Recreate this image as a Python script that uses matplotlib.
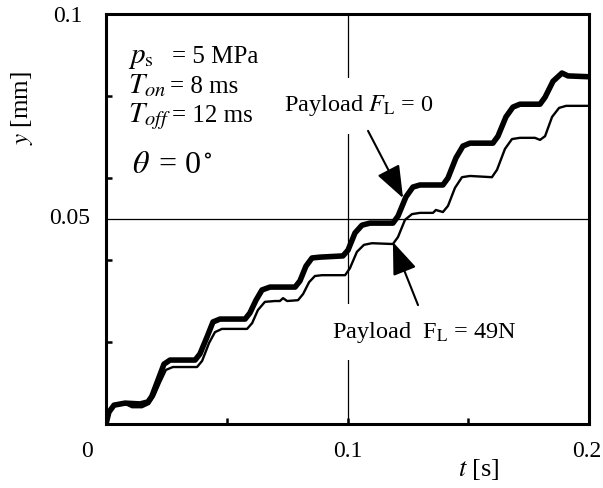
import matplotlib
matplotlib.use('Agg')
import matplotlib.pyplot as plt

plt.rcParams['font.family'] = ['Liberation Serif', 'DejaVu Serif']
plt.rcParams['mathtext.fontset'] = 'stix'

# spool displacement, payload F_L = 0
t_free = [0.0, 0.0012, 0.0033, 0.0079, 0.0141, 0.0174, 0.0190, 0.0215, 0.0240, 0.0265,
          0.0369, 0.0389, 0.0418, 0.0443, 0.0472, 0.0576, 0.0596, 0.0621, 0.0646, 0.0679,
          0.0783, 0.0803, 0.0828, 0.0853, 0.0886, 0.0981, 0.1002, 0.1031, 0.1060, 0.1093,
          0.1188, 0.1209, 0.1242, 0.1271, 0.1300, 0.1395, 0.1416, 0.1449, 0.1478, 0.1507,
          0.1602, 0.1623, 0.1656, 0.1685, 0.1714, 0.1797, 0.1818, 0.1851, 0.1888, 0.1913,
          0.2000]
y_free = [0.0, 0.0029, 0.0046, 0.0051, 0.0049, 0.0054, 0.0068, 0.0107, 0.0146, 0.0156,
          0.0156, 0.0171, 0.0212, 0.0249, 0.0256, 0.0256, 0.0271, 0.0302, 0.0327, 0.0334,
          0.0334, 0.0349, 0.0385, 0.0405, 0.0407, 0.0410, 0.0424, 0.0466, 0.0485, 0.0490,
          0.0490, 0.0507, 0.0554, 0.0578, 0.0583, 0.0583, 0.0600, 0.0649, 0.0678, 0.0685,
          0.0685, 0.0702, 0.0749, 0.0773, 0.0780, 0.0780, 0.0797, 0.0836, 0.0856, 0.0849,
          0.0847]

# spool displacement, payload F_L = 49 N
t_load = [0.0, 0.0012, 0.0033, 0.0079, 0.0108, 0.0149, 0.0178, 0.0199, 0.0224, 0.0248,
          0.0277, 0.0377, 0.0398, 0.0427, 0.0451, 0.0480, 0.0584, 0.0605, 0.0629, 0.0658,
          0.0700, 0.0720, 0.0733, 0.0750, 0.0795, 0.0816, 0.0841, 0.0865, 0.0894, 0.0990,
          0.1010, 0.1039, 0.1068, 0.1101, 0.1188, 0.1209, 0.1238, 0.1267, 0.1300, 0.1354,
          0.1366, 0.1395, 0.1416, 0.1445, 0.1474, 0.1507, 0.1598, 0.1619, 0.1652, 0.1681,
          0.1714, 0.1776, 0.1797, 0.1818, 0.1847, 0.1876, 0.1905, 0.2000]
y_load = [0.0, 0.0027, 0.0044, 0.0049, 0.0041, 0.0041, 0.0049, 0.0068, 0.0102, 0.0132,
          0.0139, 0.0139, 0.0154, 0.0198, 0.0224, 0.0232, 0.0232, 0.0246, 0.0278, 0.0298,
          0.0300, 0.0300, 0.0307, 0.0300, 0.0302, 0.0317, 0.0346, 0.0361, 0.0363, 0.0363,
          0.0380, 0.0420, 0.0437, 0.0441, 0.0439, 0.0456, 0.0498, 0.0512, 0.0515, 0.0515,
          0.0522, 0.0517, 0.0532, 0.0576, 0.0602, 0.0605, 0.0602, 0.0620, 0.0671, 0.0695,
          0.0698, 0.0698, 0.0693, 0.0702, 0.0749, 0.0771, 0.0776, 0.0776]

x_ticks = [0.05, 0.1, 0.15]
y_ticks = [0.02, 0.04, 0.06, 0.08]

fig = plt.figure(figsize=(6.03, 4.88), dpi=100)
ax = fig.add_axes([0.1758, 0.1311, 0.801, 0.8402])
ax.set_xlim(0, 0.2)
ax.set_ylim(0, 0.1)

ax.axvline(0.1, color='k', lw=0.9, zorder=1)
ax.axhline(0.05, color='k', lw=0.9, zorder=1)

ax.plot(t_free, y_free, color='k', lw=4.0, solid_joinstyle='round', zorder=4)
ax.plot(t_load, y_load, color='k', lw=1.7, solid_joinstyle='round', zorder=4)

for sp in ax.spines.values():
    sp.set_linewidth(2.2)
ax.set_xticks(x_ticks)
ax.set_yticks(y_ticks)
ax.tick_params(direction='in', length=4, width=1.8,
               labelbottom=False, labelleft=False)

# tick labels
fs = 17
xt = ax.get_xaxis_transform()
yt = ax.get_yaxis_transform()
ax.text(-0.0079, -0.068, '0', transform=xt, ha='center', va='center', fontsize=fs)
ax.text(0.1, -0.068, '0.1', transform=xt, ha='center', va='center', fontsize=fs)
ax.text(0.1992, -0.068, '0.2', transform=xt, ha='center', va='center', fontsize=fs)
ax.text(-0.033, 0.0502, '0.05', transform=yt, ha='right', va='center', fontsize=fs)
ax.text(-0.0497, 0.0993, '0.1', transform=yt, ha='right', va='center', fontsize=fs)

fig.text(22 / 603, 1 - 108 / 488, '$y$ [mm]', rotation=90,
         ha='center', va='center', fontsize=18)
fig.text(479 / 603, 1 - 470 / 488, '$t$ [s]', ha='center', va='center', fontsize=19)

# operating conditions
ax.text(0.0091, 0.0880, r'$p_\mathrm{s}$', fontsize=21, va='baseline')
ax.text(0.0273, 0.0880, '= 5 MPa', fontsize=18, va='baseline')
ax.text(0.0091, 0.0807, r'$T_{on}$', fontsize=21, va='baseline')
ax.text(0.0265, 0.0807, '= 8 ms', fontsize=18, va='baseline')
ax.text(0.0091, 0.0737, r'$T_{off}$', fontsize=21, va='baseline')
ax.text(0.0273, 0.0737, '= 12 ms', fontsize=18, va='baseline')
ax.text(0.0108, 0.0612, r'$\theta$', fontsize=23, va='baseline')
ax.text(0.0215, 0.0612, r'= 0$^\circ$', fontsize=23, va='baseline')

# curve labels with arrows
box = dict(facecolor='white', edgecolor='none', pad=11)
ax.text(0.1048, 0.0776, r'Payload $F_\mathrm{L}$ = 0', fontsize=17.5,
        ha='center', va='center', bbox=box, zorder=2)
ax.text(0.1319, 0.0224, r'Payload  F$_\mathrm{L}$ = 49N', fontsize=17.5,
        ha='center', va='center', bbox=box, zorder=2)
arrow = dict(arrowstyle='-|>,head_length=1.0,head_width=0.38', mutation_scale=20,
             color='k', lw=1.5, shrinkA=0, shrinkB=0)
ax.annotate('', xy=(0.1230, 0.0551), xytext=(0.1085, 0.0715),
            arrowprops=arrow, zorder=5)
ax.annotate('', xy=(0.1188, 0.0444), xytext=(0.1292, 0.0290),
            arrowprops=arrow, zorder=5)

fig.savefig('out.png', dpi=100)
